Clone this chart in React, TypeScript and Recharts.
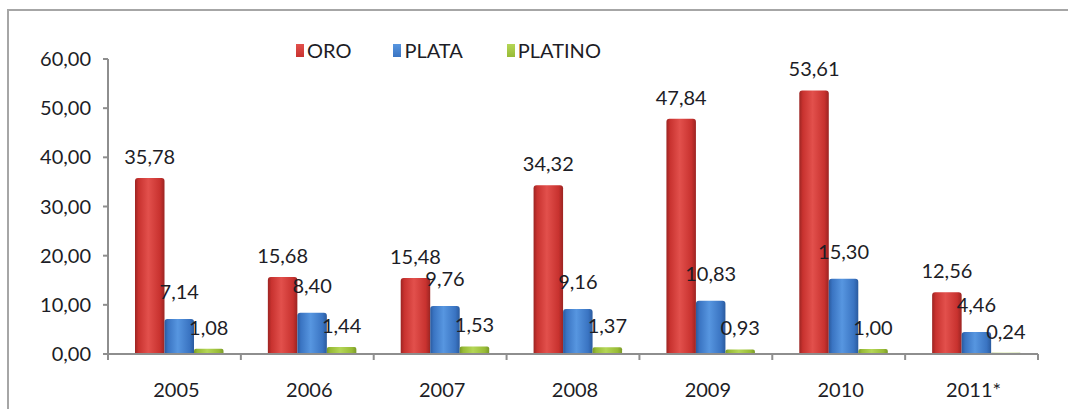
import { BarChart, Bar, XAxis, YAxis, LabelList } from "recharts";

// Values (millions, comma decimals)
const YEARS = ["2005", "2006", "2007", "2008", "2009", "2010", "2011*"];
const ORO = [35.78, 15.68, 15.48, 34.32, 47.84, 53.61, 12.56];
const PLATA = [7.14, 8.4, 9.76, 9.16, 10.83, 15.3, 4.46];
const PLATINO = [1.08, 1.44, 1.53, 1.37, 0.93, 1.0, 0.24];
// spacer keeps the bar group offset to the left of each band the way the original does
const SPACER = [0, 0, 0, 0, 0, 0, 0];
const Y_TICKS = [0, 10, 20, 30, 40, 50, 60];

const W = 1068;
const H = 409;
const MARGIN = { top: 59, right: 30, bottom: 10, left: 0 };
const Y_WIDTH = 108;
const BAND = (W - Y_WIDTH - MARGIN.right) / YEARS.length;

const FONT = "Lato, 'Open Sans', sans-serif";
const FS = 20;
const TEXT = "#1d1d26";
const AXIS = "#8e8e8e";

const SERIES = [
  { key: "oro", name: "ORO", grad: "gOro", base: "#c8322f", light: "#e2504c", dark: "#9c2422" },
  { key: "plata", name: "PLATA", grad: "gPlata", base: "#3a74c2", light: "#5796e0", dark: "#2a5a9e" },
  { key: "platino", name: "PLATINO", grad: "gPlatino", base: "#98bb36", light: "#b4d656", dark: "#7a9a28" },
];

const fmt = (v: number) => v.toFixed(2).replace(".", ",");

const data = YEARS.map((year, i) => ({
  year,
  spacer: SPACER[i],
  oro: ORO[i],
  plata: PLATA[i],
  platino: PLATINO[i],
}));

function LegendBox() {
  return (
    <div
      style={{
        position: "absolute",
        top: 38,
        left: 296,
        display: "flex",
        fontFamily: FONT,
        fontSize: FS,
        color: TEXT,
      }}
    >
      {SERIES.map((s, i) => (
        <div key={s.key} style={{ display: "flex", alignItems: "center", marginRight: i === 0 ? 42 : 44 }}>
          <span
            style={{
              display: "inline-block",
              width: 8,
              height: 13,
              marginRight: 3,
              background: `linear-gradient(to bottom, ${s.light}, ${s.base})`,
            }}
          />
          <span>{s.name}</span>
        </div>
      ))}
    </div>
  );
}

// category label plus boundary tick marks (Excel puts ticks between categories)
function YearTick(props: any) {
  const { x, y, payload, index } = props;
  const axisY = y - 8;
  return (
    <g>
      <line x1={x - BAND / 2} x2={x - BAND / 2} y1={axisY} y2={axisY + 6} stroke={AXIS} strokeWidth={2} />
      {index === YEARS.length - 1 && (
        <line x1={x + BAND / 2} x2={x + BAND / 2} y1={axisY} y2={axisY + 6} stroke={AXIS} strokeWidth={2} />
      )}
      <text x={x + 2} y={axisY + 43} textAnchor="middle" fill={TEXT} fontFamily={FONT} fontSize={FS}>
        {payload.value}
      </text>
    </g>
  );
}

const labelStyle = { fill: TEXT, fontFamily: FONT, fontSize: FS };

export default function App() {
  return (
    <div style={{ position: "absolute", left: 0, top: 0, width: W, height: H, background: "#fff" }}>
      <div
        style={{
          position: "absolute",
          left: 7,
          top: 9,
          right: 0,
          bottom: 0,
          borderTop: "2px solid #a6a6a6",
          borderLeft: "2px solid #a6a6a6",
        }}
      />
      <BarChart
        width={W}
        height={H}
        data={data}
        margin={MARGIN}
        barGap={0}
        style={{ position: "absolute", left: 0, top: 0 }}
      >
        <defs>
          {SERIES.map((s) => (
            <linearGradient key={s.grad} id={s.grad} x1="0" y1="0" x2="1" y2="0">
              <stop offset="0%" stopColor={s.dark} />
              <stop offset="12%" stopColor={s.base} />
              <stop offset="45%" stopColor={s.light} />
              <stop offset="85%" stopColor={s.base} />
              <stop offset="100%" stopColor={s.dark} />
            </linearGradient>
          ))}
        </defs>
        <XAxis
          dataKey="year"
          height={H - MARGIN.top - MARGIN.bottom - 295}
          axisLine={{ stroke: AXIS, strokeWidth: 2 }}
          tickLine={false}
          tickSize={6}
          tickMargin={2}
          interval={0}
          tick={<YearTick />}
        />
        <YAxis
          width={Y_WIDTH}
          domain={[0, 60]}
          ticks={Y_TICKS}
          tickFormatter={fmt}
          axisLine={{ stroke: AXIS, strokeWidth: 2 }}
          tickLine={{ stroke: AXIS, strokeWidth: 2 }}
          tickSize={5}
          tickMargin={12}
          tick={labelStyle}
        />
        <Bar dataKey="spacer" barSize={10} fill="none" legendType="none" isAnimationActive={false} />
        <Bar dataKey="oro" name="ORO" barSize={29.5} fill="url(#gOro)" radius={[3, 3, 0, 0]} isAnimationActive={false}>
          <LabelList dataKey="oro" position="top" offset={14} formatter={(v: any) => fmt(Number(v))} style={labelStyle} />
        </Bar>
        <Bar dataKey="plata" name="PLATA" barSize={29.5} fill="url(#gPlata)" radius={[3, 3, 0, 0]} isAnimationActive={false}>
          <LabelList dataKey="plata" position="top" offset={20} formatter={(v: any) => fmt(Number(v))} style={labelStyle} />
        </Bar>
        <Bar dataKey="platino" name="PLATINO" barSize={29.5} fill="url(#gPlatino)" radius={[2, 2, 0, 0]} isAnimationActive={false}>
          <LabelList dataKey="platino" position="top" offset={14} formatter={(v: any) => fmt(Number(v))} style={labelStyle} />
        </Bar>
      </BarChart>
      <LegendBox />
    </div>
  );
}
